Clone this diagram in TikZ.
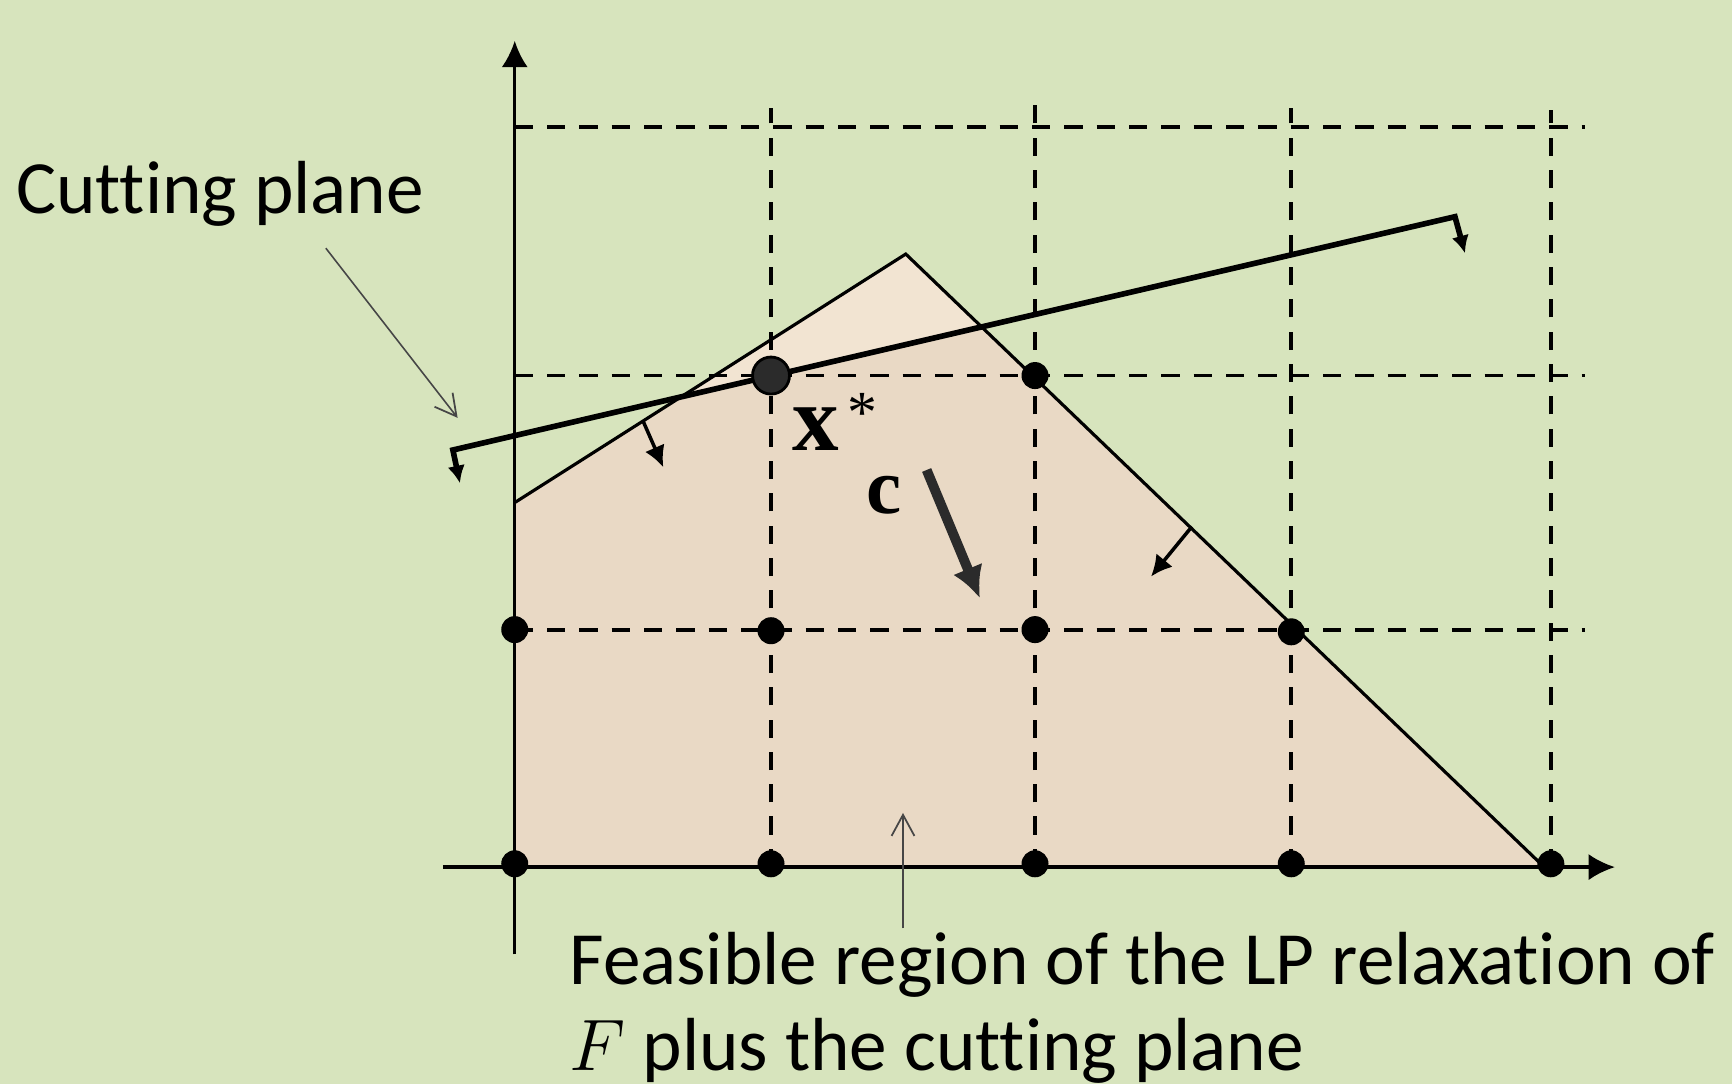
\documentclass[tikz,border=0pt]{standalone}
\usepackage{fontspec}
\setmainfont{Carlito}[Ligatures=NoCommon]
\newfontfamily\serifb{Liberation Serif}
\usetikzlibrary{arrows.meta}
\definecolor{bg}{RGB}{215,228,189}
\definecolor{fillA}{RGB}{233,217,197}
\definecolor{fillB}{RGB}{242,228,210}
\definecolor{cgray}{RGB}{43,43,43}
\definecolor{annotgray}{RGB}{70,70,70}
\tikzset{
  axisline/.style={line width=0.95pt, -{Latex[length=7.5pt,width=7.5pt]}},
  gridline/.style={line width=1.1pt, dash pattern=on 5.2pt off 4pt},
  edgeline/.style={line width=0.9pt},
  cutline/.style={line width=1.6pt, line join=miter, {Latex[length=5pt,width=5pt]}-{Latex[length=5pt,width=5pt]}},
  normarrow/.style={line width=1pt, -{Latex[length=6pt,width=6pt]}},
  objarrow/.style={line width=2.8pt, draw=cgray, -{Latex[length=9pt,width=9pt]}},
  annot/.style={line width=0.45pt, draw=annotgray, -{Straight Barb[length=6pt,width=6.5pt,line width=0.5pt]}},
  latdot/.style={circle, fill=black, minimum size=0.27cm, inner sep=0pt},
  optdot/.style={circle, fill=cgray, draw=black, line width=0.8pt, minimum size=0.37cm, inner sep=0pt},
  txt/.style={inner sep=0pt, font=\fontsize{21.4}{24}\selectfont}
}
\begin{document}
\begin{tikzpicture}[x=0.011046cm,y=-0.011046cm]
\useasboundingbox (0,0) rectangle (1568,981);
\fill[bg] (0,0) rectangle (1568,981);

% polygon vertices
\coordinate (A) at (466,455);
\coordinate (P) at (820,230);
\coordinate (B) at (1398,785);
\coordinate (O) at (466,785);

% feasible region fills
\begin{scope}
  \clip (O) -- (A) -- (P) -- (B) -- cycle;
  \fill[fillB] (O) -- (A) -- (P) -- (B) -- cycle;
  \fill[fillA] (400,409.3) -- (1400,176.9) -- (1400,800) -- (400,800) -- cycle;
\end{scope}

% grid
\coordinate (v1t) at (698,98);   \coordinate (v1b) at (698,785);
\coordinate (v2t) at (937,85);   \coordinate (v2b) at (937,785);
\coordinate (v3t) at (1169,98);  \coordinate (v3b) at (1169,785);
\coordinate (v4t) at (1404,100); \coordinate (v4b) at (1404,785);
\coordinate (h1l) at (466,570);  \coordinate (h1r) at (1435,570);
\coordinate (h2l) at (466,340);  \coordinate (h2r) at (1435,340);
\coordinate (h3l) at (466,115);  \coordinate (h3r) at (1435,115);
\draw[gridline] (v1b) -- (v1t);
\draw[gridline] (v2b) -- (v2t);
\draw[gridline] (v3b) -- (v3t);
\draw[gridline] (v4b) -- (v4t);
\draw[gridline] (h1l) -- (h1r);
\draw[gridline] (h2l) -- (h2r);
\draw[gridline] (h3l) -- (h3r);

% axes
\coordinate (yb) at (466,864);
\coordinate (yt) at (466,37);
\coordinate (xl) at (401,785);
\coordinate (xr) at (1462,785);
\draw[axisline] (yb) -- (yt);
\draw[axisline] (xl) -- (xr);

% polygon edges
\draw[edgeline] (A) -- (P) -- (B);

% constraint normal arrows
\coordinate (s1) at (582.4,381.7); \coordinate (s1t) at (600.5,423);
\coordinate (s2) at (1079,476.8);  \coordinate (s2t) at (1042,522);
\draw[normarrow] (s1) -- (s1t);
\draw[normarrow] (s2) -- (s2t);

% cutting plane
\coordinate (Lh) at (416.4,437.5);
\coordinate (L) at (410,407.4);
\coordinate (R) at (1317.2,196.2);
\coordinate (Rh) at (1326.3,229.3);
\draw[cutline] (Lh) -- (L) -- (R) -- (Rh);

% lattice points
\node[latdot] (d00) at (466,782) {};
\node[latdot] (d10) at (698,782) {};
\node[latdot] (d20) at (937,782) {};
\node[latdot] (d30) at (1169,782) {};
\node[latdot] (d40) at (1404,782) {};
\node[latdot] (d01) at (466,570) {};
\node[latdot] (d11) at (698,571) {};
\node[latdot] (d21) at (937,570) {};
\node[latdot] (d31) at (1169,572) {};
\node[latdot] (d22) at (937,340) {};
\node[optdot] (xopt) at (698,340) {};

% objective arrow
\coordinate (c0) at (838.9,425.5);
\coordinate (c1) at (887.2,541.7);
\draw[objarrow] (c0) -- (c1);

% labels
\node[inner sep=0pt, anchor=base] (labC) at (800.5,464.7)
  {\serifb\bfseries\fontsize{22.5}{24}\selectfont c};
\node[inner sep=0pt, anchor=base west] (labX) at (716.5,407.4)
  {\serifb{\bfseries\fontsize{26.5}{28}\selectfont x}\hspace{2.6pt}\raisebox{5pt}{\fontsize{17}{18}\selectfont *}};

\node[txt, anchor=base west] (labCut) at (14,193.4) {Cutting plane};
\coordinate (a1s) at (295,224.7);
\coordinate (a1e) at (414.3,378.3);
\draw[annot] (a1s) -- (a1e);

\node[txt, anchor=base west] (labF1) at (515,891.7) {Feasible region of the LP relaxation of};
\node[txt, anchor=base west] (labF2) at (515,968.7) {$F$ plus the cutting plane};
\coordinate (a2s) at (817.5,840.5);
\coordinate (a2e) at (817.5,736);
\draw[annot] (a2s) -- (a2e);
\end{tikzpicture}
\end{document}
